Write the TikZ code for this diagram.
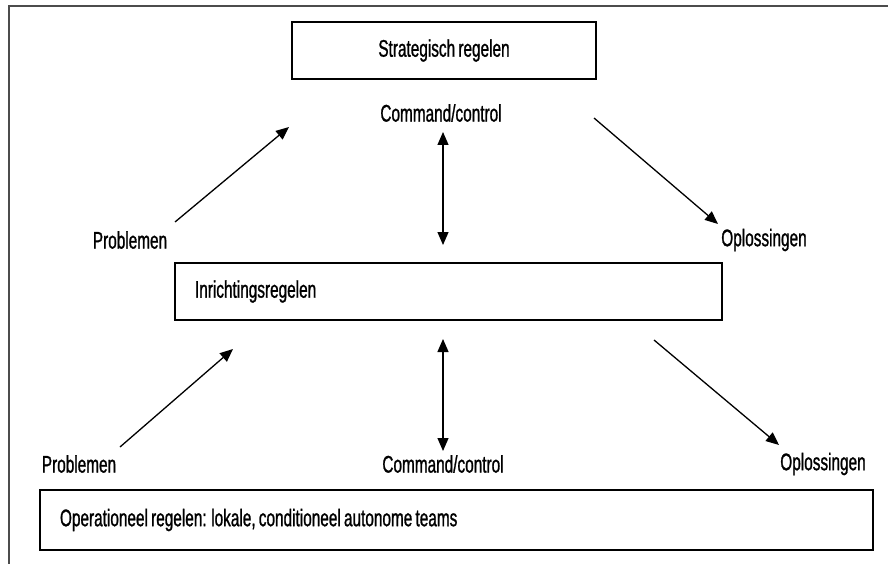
\documentclass[tikz,border=0pt]{standalone}
\usepackage{fontspec}
\setmainfont{Liberation Sans}[FakeStretch=0.64, FakeBold=1, WordSpace=0.75]
\usetikzlibrary{arrows.meta}
\tikzset{
  box/.style={draw, line width=1.6pt, rectangle, inner sep=0pt},
  lbl/.style={inner sep=0pt, font=\fontsize{24}{28}\selectfont},
  pijl/.style={line width=1.3pt, -{Triangle[length=13pt,width=11pt]}},
  dubbel/.style={line width=1.3pt, {Triangle[length=13pt,width=11pt]}-{Triangle[length=13pt,width=11pt]}}
}
\begin{document}
\begin{tikzpicture}[x=1pt, y=-1pt]
    \useasboundingbox (0,0) rectangle (888,564);

    % open kader (boven en links)
    \draw[line width=1.5pt, black!70] (888,6) -- (9,6) -- (9,564);

    % Strategisch niveau
    \node (strategisch) [box, minimum width=304pt, minimum height=57pt, lbl] at (444,50.5)
    {Strategisch regelen};
    \node (command1) [lbl] at (441,113) {Command/control};

    % Inrichtingsniveau
    \node (inrichting) [box, minimum height=57pt, lbl, inner xsep=20pt] at (448.5,291.5)
    {\makebox[507pt][l]{Inrichtingsregelen}};
    \node (problemen1) [lbl] at (130,240) {Problemen};
    \node (oplossingen1) [lbl] at (764,240) {Oplossingen};

    % Operationeel niveau
    \node (operationeel) [box, minimum height=60pt, lbl, inner xsep=20pt] at (456.5,520)
    {\makebox[793pt][l]{Operationeel regelen: lokale, conditioneel autonome teams}};
    \node (problemen2) [lbl] at (79,464) {Problemen};
    \node (command2) [lbl] at (443,464) {Command/control};
    \node (oplossingen2) [lbl] at (823,464) {Oplossingen};

    % eindpunten van de pijlen
    \coordinate (p1a) at (175,222);  \coordinate (p1b) at (289,127);
    \coordinate (o1a) at (594,118);  \coordinate (o1b) at (718,224);
    \coordinate (p2a) at (120,447);  \coordinate (p2b) at (233,349);
    \coordinate (o2a) at (654,340);  \coordinate (o2b) at (779,445);
    \coordinate (c1a) at (443,132);  \coordinate (c1b) at (443,245);
    \coordinate (c2a) at (443,339);  \coordinate (c2b) at (443,451);

    % pijlen
    \draw[pijl] (p1a) -- (p1b);
    \draw[pijl] (o1a) -- (o1b);
    \draw[pijl] (p2a) -- (p2b);
    \draw[pijl] (o2a) -- (o2b);
    \draw[dubbel] (c1a) -- (c1b);
    \draw[dubbel] (c2a) -- (c2b);

\end{tikzpicture}
\end{document}
